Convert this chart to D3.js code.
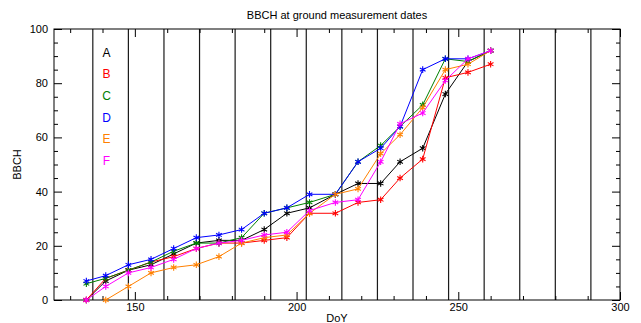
<!DOCTYPE html>
<html>
<head>
<meta charset="utf-8">
<script src="https://cdn.jsdelivr.net/npm/d3@7"></script>
<style>
  body { margin: 0; background: #fff; }
  svg text { font-family: "Liberation Sans", Arial, Helvetica, sans-serif; }
</style>
</head>
<body>
<div id="chart-area"></div>
<script>
// ground measurement dates (DoY)
var dates = [135, 141, 148, 155, 162, 169, 176, 183, 190, 197, 204, 212, 219, 226, 232, 239, 246, 253, 260];

// BBCH per site, null = no measurement
var siteA = [0, 7, 11, 13, 17, 21, 22, 22, 26, 32, 34, 39, 43, 43, 51, 56, 76, 88, 92];
var siteB = [0, 8, 11, 14, 16, 19, 21, 21, 22, 23, 32, 32, 36, 37, 45, 52, 82, 84, 87];
var siteC = [6, 8, 11, 14, 18, 21, 21, 23, 32, 34, 36, 39, 51, 57, 64, 72, 89, 88, 92];
var siteD = [7, 9, 13, 15, 19, 23, 24, 26, 32, 34, 39, 39, 51, 56, 64, 85, 89, 89, 92];
var siteE = [null, 0, 5, 10, 12, 13, 16, 21, 23, 24, 32, 39, 41, 54, 61, 71, 85, 87, 92];
var siteF = [0, 5, 10, 12, 15, 19, 21, 22, 24, 25, 33, 36, 37, 51, 65, 69, 81, 89, 92];

var siteNames = ["A", "B", "C", "D", "E", "F"];
var siteColors = ["#000000", "#ff0000", "#008000", "#0000ff", "#ff8000", "#ff00ff"];

// image acquisition dates (vertical lines)
var imageDates = [137, 148, 159, 170, 181, 192, 203, 214, 225, 236, 247, 258, 269, 280, 291];

var xMajor = [150, 200, 250, 300];
var yMajor = [0, 20, 40, 60, 80, 100];

var margin = { left: 54, right: 21, top: 29, bottom: 23 },
    width = 641 - margin.left - margin.right,
    height = 323 - margin.top - margin.bottom;

var svg = d3.select("#chart-area")
    .append("svg")
    .attr("width", 641)
    .attr("height", 323);
var g = svg.append("g")
    .attr("transform", "translate(" + margin.left + "," + margin.top + ")");

var x = d3.scaleLinear().domain([125, 300]).range([0, width]);
var y = d3.scaleLinear().domain([0, 100]).range([height, 0]);

// vertical lines at image dates
g.selectAll(".vline")
    .data(imageDates)
    .enter().append("line")
    .attr("class", "vline")
    .attr("x1", function(d){ return x(d); })
    .attr("x2", function(d){ return x(d); })
    .attr("y1", 0)
    .attr("y2", height)
    .attr("stroke", "#1a1a1a")
    .attr("stroke-width", 1.2);

// minor tick values
var xMinor = d3.range(130, 300, 10).filter(function(v){ return v % 50 != 0; });
var yMinor = d3.range(5, 100, 5).filter(function(v){ return v % 20 != 0; });

function styleAxis(sel) {
    sel.select(".domain").remove();
    sel.selectAll("line").attr("stroke", "#000");
    sel.selectAll("text")
        .attr("fill", "#000")
        .style("font-size", "11px");
}

// bottom
g.append("g").attr("transform", "translate(0," + height + ")")
    .call(d3.axisBottom(x).tickValues(xMajor).tickSize(-8).tickPadding(4).tickFormat(d3.format("d")))
    .call(styleAxis)
    .selectAll("text").attr("y", 3);
g.append("g").attr("transform", "translate(0," + height + ")")
    .call(d3.axisBottom(x).tickValues(xMinor).tickSize(-4).tickFormat(""))
    .call(styleAxis);
// top
g.append("g")
    .call(d3.axisTop(x).tickValues(xMajor).tickSize(-8).tickFormat(""))
    .call(styleAxis);
g.append("g")
    .call(d3.axisTop(x).tickValues(xMinor).tickSize(-4).tickFormat(""))
    .call(styleAxis);
// left
g.append("g")
    .call(d3.axisLeft(y).tickValues(yMajor).tickSize(-8).tickPadding(6).tickFormat(d3.format("d")))
    .call(styleAxis)
    .selectAll("text").attr("x", -6);
g.append("g")
    .call(d3.axisLeft(y).tickValues(yMinor).tickSize(-4).tickFormat(""))
    .call(styleAxis);
// right
g.append("g").attr("transform", "translate(" + width + ",0)")
    .call(d3.axisRight(y).tickValues(yMajor).tickSize(-8).tickFormat(""))
    .call(styleAxis);
g.append("g").attr("transform", "translate(" + width + ",0)")
    .call(d3.axisRight(y).tickValues(yMinor).tickSize(-4).tickFormat(""))
    .call(styleAxis);

// frame
g.append("rect")
    .attr("width", width)
    .attr("height", height)
    .attr("fill", "none")
    .attr("stroke", "#000")
    .attr("stroke-width", 1);

// series
var series = [siteA, siteB, siteC, siteD, siteE, siteF];

var line = d3.line()
    .defined(function(d){ return d.v != null; })
    .x(function(d){ return x(d.t); })
    .y(function(d){ return y(d.v); });

// asterisk marker
function star(r) {
    var p = "";
    [90, 30, 150].forEach(function(a){
        var dx = r * Math.cos(a * Math.PI / 180), dy = r * Math.sin(a * Math.PI / 180);
        p += "M" + (-dx) + "," + (-dy) + "L" + dx + "," + dy;
    });
    return p;
}

series.forEach(function(vals, i){
    var pts = dates.map(function(t, j){ return { t: t, v: vals[j] }; });
    g.append("path")
        .attr("fill", "none")
        .attr("stroke", siteColors[i])
        .attr("stroke-width", 1)
        .attr("d", line(pts));
    g.selectAll(".m" + i)
        .data(pts.filter(function(d){ return d.v != null; }))
        .enter().append("path")
        .attr("class", "m" + i)
        .attr("transform", function(d){ return "translate(" + x(d.t) + "," + y(d.v) + ")"; })
        .attr("d", star(3.3))
        .attr("stroke", siteColors[i])
        .attr("stroke-width", 1.1)
        .attr("fill", "none");
});

// legend
g.selectAll(".legend")
    .data(siteNames)
    .enter().append("text")
    .attr("class", "legend")
    .attr("x", 52.5)
    .attr("y", function(d, i){ return 27.5 + i * 21.7; })
    .attr("text-anchor", "middle")
    .attr("fill", function(d, i){ return siteColors[i]; })
    .style("font-size", "12px")
    .text(function(d){ return d; });

// labels
svg.append("text")
    .attr("x", margin.left + width / 2)
    .attr("y", 19)
    .attr("text-anchor", "middle")
    .style("font-size", "11px")
    .text("BBCH at ground measurement dates");
svg.append("text")
    .attr("x", margin.left + width / 2)
    .attr("y", 322)
    .attr("text-anchor", "middle")
    .style("font-size", "11px")
    .text("DoY");
svg.append("text")
    .attr("transform", "rotate(-90)")
    .attr("x", -(margin.top + height / 2))
    .attr("y", 21)
    .attr("text-anchor", "middle")
    .style("font-size", "11px")
    .text("BBCH");
</script>
</body>
</html>
